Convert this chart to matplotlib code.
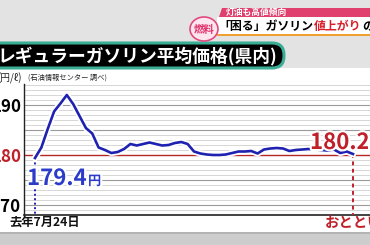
import matplotlib
matplotlib.use("Agg")
import matplotlib.pyplot as plt
import matplotlib.patheffects as pe
from matplotlib.patches import Rectangle, FancyBboxPatch, Polygon, Ellipse

# ============================================================
# データ（週ごとの県内レギュラーガソリン平均価格, 円/ℓ）
# ============================================================

weeks = list(range(51))
prices = [
    179.4, 181.5, 185.2, 188.7, 190.3, 192.0, 190.2, 187.8, 185.4, 184.3,
    181.5, 181.0, 180.4, 180.6, 181.2, 182.2, 181.9, 182.2, 182.5, 182.2,
    181.9, 182.0, 182.4, 182.6, 182.2, 180.7, 180.3, 180.1, 180.0, 180.0,
    180.1, 180.4, 180.7, 180.7, 180.8, 180.3, 181.1, 181.3, 181.4, 181.3,
    180.8, 181.0, 181.1, 181.2, 181.1, 181.0, 180.9, 181.1, 180.4, 180.7,
    180.2,
]
start_label = "去年7月24日"
end_label = "おととい"
ref_price = 180
ytick_vals = [170, 175, 180, 185, 190]
ytick_text = ["170", "", "180", "", "190"]

title = "レギュラーガソリン平均価格(県内)"
unit_text = "(円/ℓ)"
source_text = "(石油情報センター 調べ)"

JP = ["Noto Sans CJK JP", "DejaVu Sans"]
BLUE = "#1f22b0"
RED = "#c0202a"

W, H = 370, 245
fig = plt.figure(figsize=(W / 100, H / 100), dpi=100)
fig.patch.set_facecolor("#e2e2e2")

# ---- 背景（ピクセル座標） ----
bg = fig.add_axes([0, 0, 1, 1], zorder=0)
bg.set_xlim(0, W)
bg.set_ylim(H, 0)
bg.axis("off")

bg.add_patch(Rectangle((0, 0), W, 68, color="#e3e3e3", lw=0))
bg.add_patch(Rectangle((0, 68), W, 164, color="white", lw=0))
bg.add_patch(Rectangle((0, 232), W, 13, color="#cdcdcd", lw=0))
bg.add_patch(Rectangle((0, 232), W, 2, color="#b4b4b4", lw=0))

# タイトルバー
bg.add_patch(FancyBboxPatch((-30, 43), 314, 25,
                            boxstyle="round,pad=0,rounding_size=12",
                            fc="black", ec="#3aae95", lw=2.2))
bg.text(277, 56, title, color="white", fontsize=12.8, fontweight="bold",
        family=JP, ha="right", va="center")

bg.text(22, 78, unit_text, fontsize=7, family=JP, ha="right",
        va="center", color="#222222")
bg.text(28, 78, source_text, fontsize=5.2, family=JP, ha="left",
        va="center", color="#222222")

# ニュース見出し
bg.add_patch(Polygon([(222, 8), (W, 8), (W, 17), (219, 17)],
                     closed=True, color="#e0406e", lw=0))
bg.text(226, 12.6, "灯油も高値傾向", color="white", fontsize=6.3,
        family=JP, fontweight="bold", ha="left", va="center")
bg.add_patch(Rectangle((217, 17), W - 217, 18, color="white", lw=0))
bg.add_patch(Rectangle((217, 34.5), W - 217, 1.5, color="#f0a030", lw=0))
x0 = 218
bg.text(x0, 26.5, "「困る」ガソリン", color="black", fontsize=8.6,
        family=JP, fontweight="bold", ha="left", va="center")
bg.text(x0 + 96, 26.5, "値上がり", color="#d8202a", fontsize=8.6,
        family=JP, fontweight="bold", ha="left", va="center")
bg.text(x0 + 144, 26.5, "の可能性", color="black", fontsize=8.6,
        family=JP, fontweight="bold", ha="left", va="center")
bg.add_patch(Ellipse((204, 29), 28, 24, fc="#fde6ee", ec="#e04a80", lw=1.2))
bg.text(204, 29.5, "燃料", color="#e0306a", fontsize=7.5, family=JP,
        fontweight="bold", ha="center", va="center")

# ---- グラフ ----
x_px0, x_step = 35, 6.36
ax = fig.add_axes([24 / W, 30 / H, (W - 24) / W, 131 / H], zorder=1)
ax.set_facecolor("none")
ax.set_xlim((24 - x_px0) / x_step, (W - x_px0) / x_step)
ax.set_ylim(168, 194.2)

for v in range(169, 195):
    if v == ref_price:
        continue
    if v % 5 == 0:
        ax.axhline(v, color="#9a9a9a", lw=0.8, zorder=1)
    else:
        ax.axhline(v, color="#c6c6c6", lw=0.5, zorder=1)
ax.axhline(ref_price, color="#b42828", lw=1.0, zorder=2)

ax.set_yticks(ytick_vals)
ax.set_yticklabels(ytick_text, family=JP, fontsize=12.2, fontweight="bold")
ax.get_yticklabels()[2].set_color(RED)
ax.tick_params(axis="y", length=0, pad=2)
ax.set_xticks([])
for s in ["top", "right"]:
    ax.spines[s].set_visible(False)
ax.spines["left"].set_color("#222222")
ax.spines["bottom"].set_color("#222222")
ax.spines["left"].set_linewidth(1.0)
ax.spines["bottom"].set_linewidth(1.2)

# 始点・終点の縦線
ax.plot([weeks[0], weeks[0]], [prices[0], 168], color=BLUE, lw=1.4,
        ls=(0, (1, 1.3)), zorder=3)
ax.plot([weeks[-1], weeks[-1]], [prices[-1], 168], color=RED, lw=1.4,
        ls=(0, (2, 1.8)), zorder=3)

ax.plot(weeks, prices, color=BLUE, lw=1.9, zorder=5,
        solid_joinstyle="round",
        path_effects=[pe.Stroke(linewidth=4.5, foreground="white"),
                      pe.Normal()])

halo = [pe.withStroke(linewidth=3, foreground="white")]
ax.annotate("179.4", xy=(weeks[0], prices[0]), xytext=(-8, -27),
            textcoords="offset pixels", color="#2a3cc8", fontsize=16,
            family=JP, fontweight="bold", ha="left", va="baseline",
            path_effects=halo, zorder=6)
ax.annotate("円", xy=(weeks[0], prices[0]), xytext=(53, -27),
            textcoords="offset pixels", color="#2a3cc8", fontsize=9.5,
            family=JP, fontweight="bold", ha="left", va="baseline",
            path_effects=halo, zorder=6)
ax.annotate("180.2", xy=(weeks[-1], prices[-1]), xytext=(-43, 5),
            textcoords="offset pixels", color=RED, fontsize=16,
            family=JP, fontweight="bold", ha="left", va="baseline",
            path_effects=halo, zorder=6)
ax.annotate("円", xy=(weeks[-1], prices[-1]), xytext=(16, 5),
            textcoords="offset pixels", color=RED, fontsize=9.5,
            family=JP, fontweight="bold", ha="left", va="baseline",
            path_effects=halo, zorder=6)

ax.annotate(start_label, xy=(weeks[0], 0), xycoords=("data", "axes fraction"),
            xytext=(10, -7), textcoords="offset pixels", fontsize=8.8,
            family=JP, fontweight="bold", ha="center", va="center",
            color="#111111", annotation_clip=False)
ax.annotate(end_label, xy=(weeks[-1], 0), xycoords=("data", "axes fraction"),
            xytext=(1, -7), textcoords="offset pixels", fontsize=10.4,
            family=JP, fontweight="bold", ha="center", va="center",
            color=RED, annotation_clip=False)

fig.savefig("out.png", dpi=100)
